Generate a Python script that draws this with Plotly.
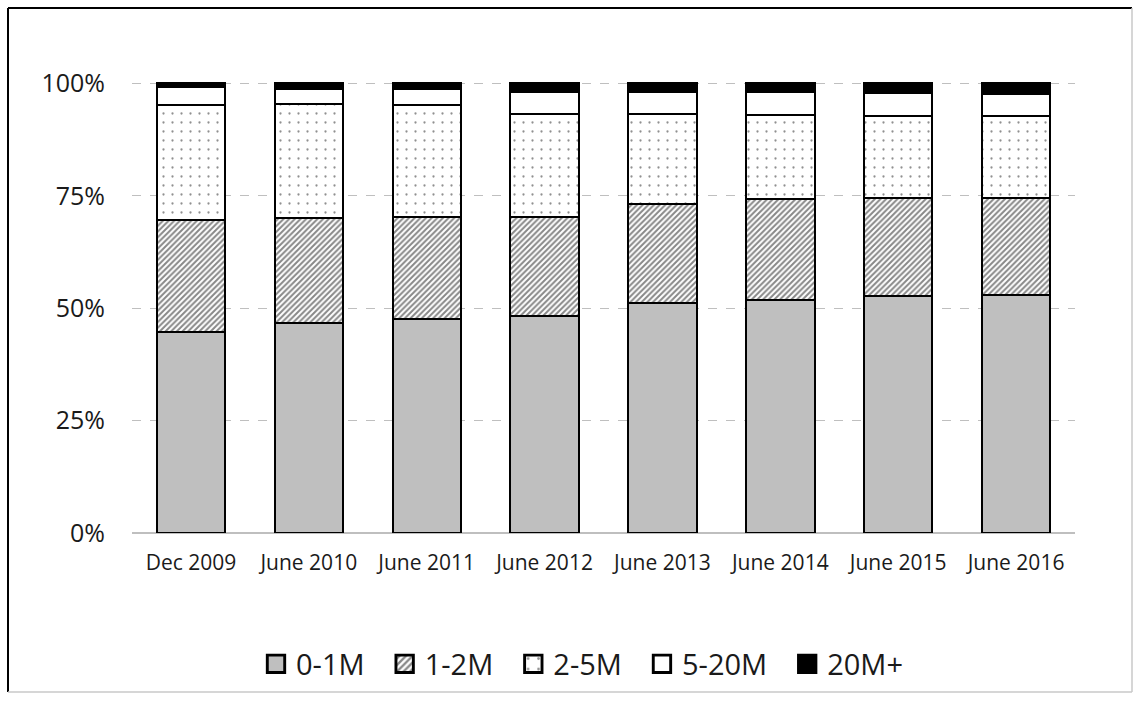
import plotly.graph_objects as go

categories = ["Dec 2009", "June 2010", "June 2011", "June 2012",
              "June 2013", "June 2014", "June 2015", "June 2016"]
s_0_1 = [44.7, 46.7, 47.7, 48.2, 51.2, 51.9, 52.8, 53.0]
s_1_2 = [24.9, 23.4, 22.6, 22.1, 22.0, 22.4, 21.8, 21.6]
s_2_5 = [25.5, 25.4, 24.8, 22.9, 19.9, 18.6, 18.2, 18.1]
s_5_20 = [4.0, 3.3, 3.7, 4.8, 4.9, 5.1, 5.1, 4.9]
s_20p = [0.9, 1.2, 1.2, 2.0, 2.0, 2.0, 2.1, 2.4]
series_names = ["0-1M", "1-2M", "2-5M", "5-20M", "20M+"]
y_ticks = [0, 25, 50, 75, 100]
y_ticktext = [f"{v}%" for v in y_ticks]

W, H = 1134, 709
L, R, T, B = 132, 59, 82, 176
FONT = "Open Sans"
TXT = "#1a1a1a"

styles = [
    dict(color="#bfbfbf"),
    dict(color="white", pattern=dict(shape="/", fgcolor="#111111", bgcolor="white",
                                     size=4, solidity=0.5, fillmode="overlay")),
    dict(color="white", pattern=dict(shape=".", fgcolor="#222222", bgcolor="white",
                                     size=9, solidity=0.05, fillmode="overlay")),
    dict(color="white"),
    dict(color="black"),
]

fig = go.Figure()
for name, vals, st in zip(series_names, [s_0_1, s_1_2, s_2_5, s_5_20, s_20p], styles):
    marker = dict(line=dict(color="black", width=2), **st)
    fig.add_trace(go.Bar(x=categories, y=vals, name=name + "\u00a0\u00a0", marker=marker))

pw, ph = W - L - R, H - T - B
def px_x(p):
    return (p - L) / pw
def px_y(p):
    return (H - B - p) / ph

# outer frame
fig.add_shape(type="line", xref="paper", yref="paper", x0=px_x(8), x1=px_x(1132),
              y0=px_y(8), y1=px_y(8), line=dict(color="black", width=2))
fig.add_shape(type="line", xref="paper", yref="paper", x0=px_x(8), x1=px_x(8),
              y0=px_y(8), y1=px_y(692), line=dict(color="black", width=2))
fig.add_shape(type="line", xref="paper", yref="paper", x0=px_x(1132), x1=px_x(1132),
              y0=px_y(8), y1=px_y(692), line=dict(color="#c8c8c8", width=1.5))
fig.add_shape(type="line", xref="paper", yref="paper", x0=px_x(8), x1=px_x(1132),
              y0=px_y(692), y1=px_y(692), line=dict(color="#c8c8c8", width=1.5))

fig.update_layout(
    width=W, height=H,
    margin=dict(l=L, r=R, t=T, b=B, pad=0),
    barmode="stack", bargap=0.42,
    plot_bgcolor="white", paper_bgcolor="white",
    font=dict(family=FONT, color=TXT),
    showlegend=True,
    legend=dict(orientation="h", x=px_x(256), xanchor="left",
                y=px_y(664), yanchor="middle", traceorder="normal",
                font=dict(size=29, family=FONT, color=TXT), itemwidth=30),
    xaxis=dict(showgrid=False, showline=False, ticks="", tickfont=dict(size=21),
               ticklabelstandoff=15),
    yaxis=dict(range=[0, 100.3], tickvals=y_ticks, ticktext=y_ticktext,
               showgrid=True, gridcolor="#bfbfbf", griddash="dash", gridwidth=1,
               zeroline=True, zerolinecolor="#bfbfbf", zerolinewidth=1.5,
               showline=False, ticks="", tickfont=dict(size=25),
               ticklabelstandoff=26),
)

post = """
function bigSwatches(){
  document.querySelectorAll('.legend .scrollbox').forEach(function(s){
    s.removeAttribute('clip-path');
  });
  document.querySelectorAll('.legendpoints path').forEach(function(p){
    var orig = p.getAttribute('data-orig-tf');
    if (orig === null) {
      orig = p.getAttribute('transform') || '';
      p.setAttribute('data-orig-tf', orig);
    }
    p.setAttribute('transform', orig + ' scale(1.45)');
  });
}
bigSwatches();
var gd = document.getElementsByClassName('plotly-graph-div')[0];
gd.on('plotly_afterplot', bigSwatches);
"""
fig.write_html("out.html", post_script=post)
